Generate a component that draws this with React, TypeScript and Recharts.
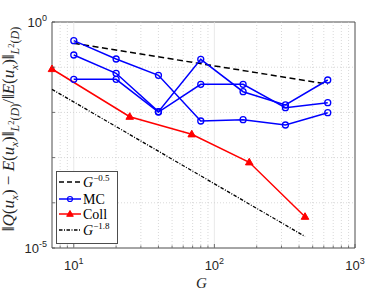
import React from 'react';
import {
  LineChart,
  Line,
  XAxis,
  YAxis,
  ReferenceLine,
  ReferenceArea,
} from 'recharts';

// sample sizes
const mcG = [10, 20, 40, 80, 160, 320, 640];
const collG = [7, 25, 69, 177, 441];
const rate05G = [10, 640];
const rate18G = [7, 441];

// relative errors
const mcRun1 = [0.386, 0.152, 0.0662, 0.00646, 0.00689, 0.00526, 0.00984];
const mcRun2 = [0.186, 0.0733, 0.0104, 0.1496, 0.0287, 0.0146, 0.0521];
const mcRun3 = [0.054, 0.054, 0.0102, 0.0418, 0.0418, 0.0127, 0.0164];
const collErr = [0.0912, 0.00803, 0.00328, 0.000787, 0.0000492];
const rate05 = [0.338, 0.0423];
const rate18 = [0.0324, 0.000018];

// ticks
const xMajor = [10, 100, 1000];
const xMinor = [8, 9, 20, 30, 40, 50, 60, 70, 80, 90, 200, 300, 400, 500, 600, 700, 800, 900];
const xTicks = [...xMinor, ...xMajor].sort((a, b) => a - b);
const yTicks = [1e-5, 1e-4, 1e-3, 1e-2, 1e-1, 1];
const yLabelled = [1e-5, 1];
const yGrid = [1e-4, 1e-3, 1e-2, 1e-1];

const BLUE = '#0000ff';
const RED = '#ff0000';
const AXIS = '#4d4d4d';
const SANS = '"Liberation Sans", Arial, sans-serif';
const SERIF = '"Liberation Serif", "Times New Roman", serif';

const toRows = (xs: number[], ys: number[]) => xs.map((g, i) => ({ g, err: ys[i] }));

const mc1 = toRows(mcG, mcRun1);
const mc2 = toRows(mcG, mcRun2);
const mc3 = toRows(mcG, mcRun3);
const coll = toRows(collG, collErr);
const ref05 = toRows(rate05G, rate05);
const ref18 = toRows(rate18G, rate18);

const XTick = (props: any) => {
  const { x, y, payload } = props;
  const v = payload.value;
  const major = xMajor.includes(v);
  const exp = Math.round(Math.log10(v));
  return (
    <g>
      <line x1={x} x2={x} y1={y} y2={y - (major ? 4 : 2.5)} stroke={AXIS} strokeWidth={0.8} />
      {major && (
        <text x={x} y={y + 22} textAnchor="middle" fontFamily={SANS} fontSize={13} fill="#262626">
          <tspan>10</tspan>
          <tspan fontSize={9} dy={-6}>{exp}</tspan>
        </text>
      )}
    </g>
  );
};

const YTick = (props: any) => {
  const { x, y, payload } = props;
  const v = payload.value;
  const exp = Math.round(Math.log10(v));
  return (
    <g>
      <line x1={x} x2={x + 3} y1={y} y2={y} stroke={AXIS} strokeWidth={0.8} />
      {yLabelled.includes(v) && (
        <text x={x - 5} y={y + 5} textAnchor="end" fontFamily={SANS} fontSize={13} fill="#262626">
          <tspan>10</tspan>
          <tspan fontSize={9} dy={-6}>{exp}</tspan>
        </text>
      )}
    </g>
  );
};

type Seg = { t: string; it?: boolean; size?: number; shift?: number };

const SUB = 12;
const ySegs: Seg[] = [
  { t: '‖' }, { t: 'Q', it: true }, { t: '(' }, { t: 'u', it: true },
  { t: 'x', it: true, size: 11, shift: 3.5 }, { t: ')' }, { t: ' − ' },
  { t: 'E', it: true }, { t: '(' }, { t: 'u', it: true },
  { t: 'x', it: true, size: 11, shift: 3.5 }, { t: ')' }, { t: '‖' },
  { t: 'L', it: true, size: SUB, shift: 5 }, { t: '2', size: 8.5, shift: 0 },
  { t: '(', size: SUB, shift: 5 }, { t: 'D', it: true, size: SUB, shift: 5 }, { t: ')', size: SUB, shift: 5 },
  { t: '/' }, { t: '‖' }, { t: 'E', it: true }, { t: '(' }, { t: 'u', it: true },
  { t: 'x', it: true, size: 11, shift: 3.5 }, { t: ')' }, { t: '‖' },
  { t: 'L', it: true, size: SUB, shift: 5 }, { t: '2', size: 8.5, shift: 0 },
  { t: '(', size: SUB, shift: 5 }, { t: 'D', it: true, size: SUB, shift: 5 }, { t: ')', size: SUB, shift: 5 },
];

const renderSegs = (segs: Seg[]) => {
  let cur = 0;
  return segs.map((s, i) => {
    const sh = s.shift ?? 0;
    const dy = sh - cur;
    cur = sh;
    return (
      <tspan key={i} dy={dy} fontStyle={s.it ? 'italic' : 'normal'} fontSize={s.size ?? 17}>
        {s.t}
      </tspan>
    );
  });
};

const YLabel = (props: any) => {
  const vb = props.viewBox || { x: 0, y: 22, width: 52, height: 226 };
  const cx = vb.x + 14;
  const cy = vb.y + vb.height / 2 - 6;
  return (
    <text
      x={cx}
      y={cy}
      transform={`rotate(-90, ${cx}, ${cy})`}
      textAnchor="middle"
      fontFamily={SERIF}
      fontSize={17}
      fill="#262626"
    >
      {renderSegs(ySegs)}
    </text>
  );
};

const XLabel = (props: any) => {
  const vb = props.viewBox || { x: 52, y: 248, width: 303, height: 46 };
  return (
    <text
      x={vb.x + vb.width / 2 - 2}
      y={vb.y + 40}
      textAnchor="middle"
      fontFamily={SERIF}
      fontStyle="italic"
      fontSize={15}
      fill="#262626"
    >
      G
    </text>
  );
};

const Triangle = (p: any) => {
  if (p.cx == null || p.cy == null) return <g key={`t${p.index}`} />;
  const { cx, cy } = p;
  return (
    <path
      key={`t${p.index}`}
      d={`M${cx},${cy - 4} L${cx + 3.8},${cy + 2.6} L${cx - 3.8},${cy + 2.6} Z`}
      fill={RED}
      stroke={RED}
      strokeWidth={1}
    />
  );
};

const circleDot = { r: 3, fill: 'none', stroke: BLUE, strokeWidth: 1.3 };

const LegendBox = () => (
  <svg
    width={62}
    height={73}
    style={{ position: 'absolute', left: 56, top: 171, background: '#fff' }}
  >
    <rect x={0.5} y={0.5} width={61} height={72} fill="#fff" stroke={AXIS} strokeWidth={1} />
    <line x1={3} x2={25} y1={11} y2={11} stroke="#000" strokeWidth={1.5} strokeDasharray="5 3" />
    <text x={27} y={16} fontFamily={SERIF} fontSize={14} fill="#000">
      <tspan fontStyle="italic">G</tspan>
      <tspan fontSize={9} dy={-6}>−0.5</tspan>
    </text>
    <line x1={3} x2={25} y1={28} y2={28} stroke={BLUE} strokeWidth={1.5} />
    <circle cx={14} cy={28} r={2.5} fill="none" stroke={BLUE} strokeWidth={1.2} />
    <text x={27} y={33} fontFamily={SERIF} fontSize={14} fill="#000">MC</text>
    <line x1={3} x2={25} y1={43} y2={43} stroke={RED} strokeWidth={1.5} />
    <path d="M14,39.5 L17.3,45.3 L10.7,45.3 Z" fill={RED} stroke={RED} />
    <text x={27} y={48} fontFamily={SERIF} fontSize={14} fill="#000">Coll</text>
    <line x1={3} x2={25} y1={59} y2={59} stroke="#000" strokeWidth={1.3} strokeDasharray="3.5 1.5 1 1.5" />
    <text x={27} y={64} fontFamily={SERIF} fontSize={14} fill="#000">
      <tspan fontStyle="italic">G</tspan>
      <tspan fontSize={9} dy={-6}>−1.8</tspan>
    </text>
  </svg>
);

export default function App() {
  return (
    <div style={{ position: 'absolute', left: 0, top: 0, width: 392, height: 294, background: '#fff' }}>
      <LineChart width={392} height={294} margin={{ top: 22, right: 37, left: 0, bottom: 0 }}>
        <XAxis
          dataKey="g"
          type="number"
          scale="log"
          domain={[7, 1000]}
          ticks={xTicks}
          interval={0}
          tick={<XTick />}
          tickLine={false}
          tickSize={0}
          tickMargin={0}
          height={46}
          axisLine={false}
          label={<XLabel />}
        />
        <YAxis
          dataKey="err"
          type="number"
          scale="log"
          domain={[1e-5, 1]}
          ticks={yTicks}
          interval={0}
          tick={<YTick />}
          tickLine={false}
          tickSize={0}
          tickMargin={0}
          width={52}
          axisLine={false}
          label={<YLabel />}
        />

        {xMinor.map((v) => (
          <ReferenceLine key={`vx${v}`} x={v} stroke="#c8c8c8" strokeWidth={0.7} strokeDasharray="1 2" />
        ))}
        {xMajor.slice(0, 2).map((v) => (
          <ReferenceLine key={`vX${v}`} x={v} stroke="#e3e3e3" strokeWidth={0.8} />
        ))}
        {yGrid.map((v) => (
          <ReferenceLine key={`hy${v}`} y={v} stroke="#c8c8c8" strokeWidth={0.7} strokeDasharray="1 2" />
        ))}
        <ReferenceArea x1={7} x2={1000} y1={1e-5} y2={1} fill="none" stroke={AXIS} strokeWidth={1} />

        <Line data={ref05} dataKey="err" stroke="#000" strokeWidth={1.5} strokeDasharray="6 3.5" dot={false} isAnimationActive={false} />
        <Line data={mc1} dataKey="err" stroke={BLUE} strokeWidth={1.5} dot={circleDot} isAnimationActive={false} />
        <Line data={mc2} dataKey="err" stroke={BLUE} strokeWidth={1.5} dot={circleDot} isAnimationActive={false} />
        <Line data={mc3} dataKey="err" stroke={BLUE} strokeWidth={1.5} dot={circleDot} isAnimationActive={false} />
        <Line data={coll} dataKey="err" stroke={RED} strokeWidth={1.5} dot={<Triangle />} isAnimationActive={false} />
        <Line data={ref18} dataKey="err" stroke="#000" strokeWidth={1.3} strokeDasharray="3.5 1.5 1 1.5" dot={false} isAnimationActive={false} />
      </LineChart>
      <LegendBox />
    </div>
  );
}
